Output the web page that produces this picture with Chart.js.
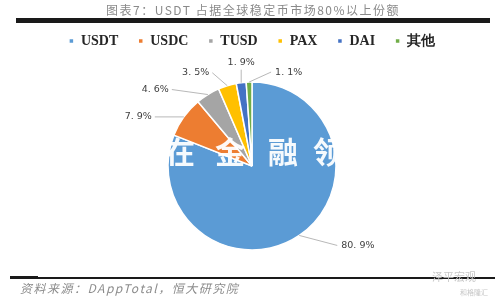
<!DOCTYPE html>
<html>
<head>
<meta charset="utf-8">
<script src="https://cdn.jsdelivr.net/npm/chart.js@4"></script>
<style>
  html, body { margin: 0; padding: 0; background: #fff; }
  #wrap { width: 500px; height: 300px; }
</style>
</head>
<body>
<div id="wrap"><canvas id="pieChart" width="500" height="300"></canvas></div>
<script>
// 数据
var labels = ['USDT', 'USDC', 'TUSD', 'PAX', 'DAI', '其他'];
var shares = [80.9, 7.9, 4.6, 3.5, 1.9, 1.1];
var colors = ['#5B9BD5', '#ED7D31', '#A5A5A5', '#FFC000', '#4472C4', '#70AD47'];

var titleText = '图表7：USDT 占据全球稳定币市场80%以上份额';
var sourceText = '资料来源：DAppTotal，恒大研究院';

// 标签引线偏移 (相对扇区外缘中点)
var labelOffsets = [
    { dx: 38, dy: 10, align: 'left' },
    { dx: -29, dy: 0, align: 'right' },
    { dx: -36, dy: -5, align: 'right' },
    { dx: -15, dy: -13, align: 'right' },
    { dx: 0, dy: -13, align: 'center' },
    { dx: 22, dy: -10, align: 'left' }
];

var decorPlugin = {
    id: 'decor',
    beforeDraw: function(chart) {
        var c = chart.ctx;
        c.save();
        c.fillStyle = '#fff';
        c.fillRect(0, 0, chart.width, chart.height);
        // 标题
        c.fillStyle = '#8a8a8a';
        c.font = '12px "Noto Sans CJK SC"';
        c.letterSpacing = '1.5px';
        c.textAlign = 'center';
        c.textBaseline = 'middle';
        c.fillText(titleText, 253, 10);
        // 顶部黑条
        c.fillStyle = '#1a1a1a';
        c.fillRect(16, 18, 474, 5);
        // 底部线
        c.fillRect(10, 277, 485, 2);
        c.fillRect(10, 276, 28, 3);
        // 资料来源
        c.fillStyle = '#8c8c8c';
        c.font = 'italic 12px "Noto Sans CJK SC"';
        c.letterSpacing = '1.5px';
        c.textAlign = 'left';
        c.fillText(sourceText, 20, 288);
        c.letterSpacing = '0px';
        // 水印
        c.fillStyle = '#c8c8c8';
        c.font = '11px "Noto Sans CJK SC"';
        c.fillText('泽平宏观', 432, 277);
        c.font = '7px "Noto Sans CJK SC"';
        c.fillText('和格隆汇', 460, 292);
        c.restore();
    },
    afterDatasetsDraw: function(chart) {
        var c = chart.ctx;
        var meta = chart.getDatasetMeta(0);
        c.save();
        meta.data.forEach(function(arc, i) {
            var p = arc.getProps(['x', 'y', 'startAngle', 'endAngle', 'outerRadius'], true);
            var mid = (p.startAngle + p.endAngle) / 2;
            var ax = p.x + Math.cos(mid) * p.outerRadius;
            var ay = p.y + Math.sin(mid) * p.outerRadius;
            var o = labelOffsets[i];
            var ex = ax + o.dx, ey = ay + o.dy;
            c.strokeStyle = '#a6a6a6';
            c.lineWidth = 0.8;
            c.beginPath();
            c.moveTo(ax, ay);
            c.lineTo(ex, ey);
            c.stroke();
            c.fillStyle = '#404040';
            c.font = '9.5px "DejaVu Sans"';
            c.textBaseline = 'middle';
            c.textAlign = o.align;
            var tx = ex, ty = ey;
            if (o.align === 'left') tx = ex + 4;
            if (o.align === 'right') tx = ex - 3;
            if (o.align === 'center') ty = ey - 7;
            var txt = shares[i].toFixed(1).replace('.', '. ') + '%';
            c.fillText(txt, tx, ty);
        });
        // 白色水印文字
        c.fillStyle = 'rgba(255,255,255,0.95)';
        c.font = 'bold 30px "Noto Sans CJK SC"';
        c.textAlign = 'center';
        c.textBaseline = 'middle';
        var wm = ['、', '在', '金', '融', '领'];
        var wx = [150, 180, 230, 283, 328];
        wm.forEach(function(ch, k) { c.fillText(ch, wx[k], 152); });
        c.restore();
    }
};

var ctx = document.getElementById('pieChart').getContext('2d');
var pieChart = new Chart(ctx, {
    type: 'pie',
    data: {
        labels: labels,
        datasets: [{
            data: shares,
            backgroundColor: colors,
            borderColor: '#ffffff',
            borderWidth: 1.5,
            radius: 84
        }]
    },
    options: {
        responsive: false,
        animation: false,
        layout: { padding: { top: 14, bottom: 26, left: 4, right: 0 } },
        plugins: {
            legend: {
                position: 'top',
                labels: {
                    usePointStyle: true,
                    pointStyle: 'rect',
                    boxWidth: 5,
                    boxHeight: 5,
                    padding: 20,
                    color: '#262626',
                    font: { family: '"Liberation Serif"', size: 14, weight: 'bold' }
                }
            },
            tooltip: { enabled: false }
        }
    },
    plugins: [decorPlugin]
});
</script>
</body>
</html>
